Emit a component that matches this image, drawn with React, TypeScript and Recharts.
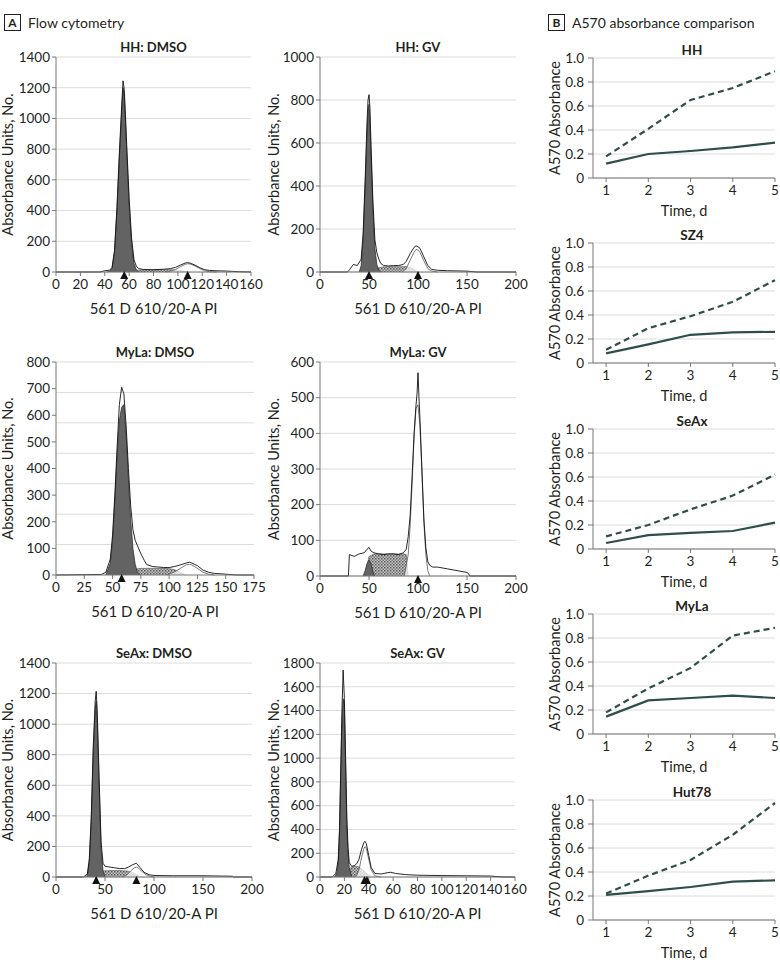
import React from 'react';
import { ComposedChart, LineChart, Area, Line, Scatter, XAxis, YAxis, CartesianGrid } from 'recharts';

const FONT = 'Lato, "Noto Sans", sans-serif';
const INK = '#231f20';
const TEAL = '#2f4e4a';

// ---------- Panel A: flow cytometry histograms ----------
// HH: DMSO
const hhDmsoX = [0, 36, 40, 44, 46, 48, 50, 52, 54, 55, 56, 57, 58, 60, 62, 64, 66, 68, 72, 80, 88, 94, 98, 102, 106, 108, 110, 114, 118, 122, 126, 132, 140, 150, 160];
const hhDmsoTotal = [0, 0, 8, 12, 30, 140, 420, 780, 1100, 1245, 1190, 1020, 830, 480, 220, 80, 35, 22, 16, 15, 18, 22, 30, 45, 58, 62, 58, 45, 28, 15, 10, 8, 6, 2, 0];
const hhDmsoG1X = [42, 44, 46, 48, 50, 52, 54, 55, 56, 57, 58, 60, 62, 64, 66, 68];
const hhDmsoG1 = [0, 5, 25, 130, 400, 750, 1060, 1200, 1150, 980, 790, 440, 190, 55, 12, 0];
const hhDmsoSX = [58, 62, 66, 72, 80, 88, 94, 100, 106, 110];
const hhDmsoS = [0, 8, 12, 14, 14, 15, 15, 12, 5, 0];
const hhDmsoG2X = [90, 94, 98, 102, 106, 108, 110, 114, 118, 122, 126, 132];
const hhDmsoG2 = [0, 6, 16, 34, 50, 54, 52, 40, 22, 8, 2, 0];
const hhDmsoArrows = [56, 108];

// HH: GV
const hhGvX = [0, 28, 30, 34, 38, 42, 44, 46, 48, 49, 50, 51, 52, 54, 56, 58, 60, 62, 65, 70, 75, 80, 85, 88, 92, 96, 98, 100, 102, 106, 110, 114, 120, 130, 140, 150, 155, 160, 200];
const hhGvTotal = [0, 0, 10, 35, 30, 60, 180, 420, 700, 800, 825, 760, 600, 330, 150, 90, 60, 40, 30, 28, 30, 30, 35, 50, 85, 115, 122, 118, 110, 70, 30, 12, 8, 6, 5, 4, 2, 0, 0];
const hhGvG1X = [40, 42, 44, 46, 48, 49, 50, 51, 52, 54, 56, 58, 60, 62];
const hhGvG1 = [0, 30, 150, 390, 660, 740, 780, 700, 560, 290, 110, 35, 8, 0];
const hhGvSX = [52, 56, 60, 65, 70, 80, 88, 92, 96, 100];
const hhGvS = [0, 12, 20, 24, 25, 25, 25, 22, 12, 0];
const hhGvG2X = [84, 88, 92, 96, 98, 100, 102, 106, 110, 114, 120];
const hhGvG2 = [0, 15, 55, 92, 105, 102, 92, 52, 16, 4, 0];
const hhGvArrows = [50, 100];

// MyLa: DMSO
const mylaDmsoX = [0, 40, 44, 48, 50, 52, 54, 56, 58, 60, 62, 64, 66, 68, 70, 72, 75, 78, 80, 85, 90, 95, 100, 105, 110, 115, 118, 120, 125, 130, 135, 140, 150, 160, 175];
const mylaDmsoTotal = [0, 2, 10, 60, 150, 300, 480, 640, 705, 680, 560, 400, 260, 170, 130, 110, 80, 55, 40, 32, 30, 28, 28, 32, 38, 45, 48, 45, 35, 18, 10, 6, 3, 0, 0];
const mylaDmsoG1X = [44, 48, 50, 52, 54, 56, 58, 60, 62, 64, 66, 68, 70, 72, 75];
const mylaDmsoG1 = [0, 45, 130, 280, 450, 580, 630, 640, 530, 360, 210, 100, 40, 10, 0];
const mylaDmsoSX = [60, 65, 70, 75, 80, 90, 100, 105, 110, 115];
const mylaDmsoS = [0, 15, 22, 25, 25, 25, 24, 20, 10, 0];
const mylaDmsoG2X = [98, 105, 110, 115, 118, 120, 125, 130, 135, 140];
const mylaDmsoG2 = [0, 12, 25, 38, 40, 38, 25, 10, 3, 0];
const mylaDmsoArrows = [58];
const mylaDmsoGrid = [800 / 7, 1600 / 7, 2400 / 7, 3200 / 7, 4000 / 7, 4800 / 7, 800];

// MyLa: GV
const mylaGvX = [0, 29, 30, 35, 40, 45, 48, 50, 52, 55, 60, 65, 70, 75, 80, 85, 88, 90, 92, 94, 96, 98, 99, 100, 101, 102, 104, 106, 108, 110, 112, 115, 120, 130, 140, 150, 152, 153, 160, 200];
const mylaGvTotal = [0, 0, 60, 55, 62, 65, 75, 80, 70, 65, 62, 60, 62, 62, 60, 65, 75, 110, 170, 280, 400, 480, 510, 570, 500, 440, 300, 160, 80, 40, 30, 25, 25, 20, 15, 10, 5, 0, 0, 0];
const mylaGvG1X = [44, 46, 48, 50, 52, 54, 56];
const mylaGvG1 = [0, 15, 35, 45, 35, 12, 0];
const mylaGvSX = [46, 50, 55, 60, 70, 80, 86, 88, 90];
const mylaGvS = [0, 55, 62, 62, 62, 62, 62, 60, 0];
const mylaGvG2X = [86, 90, 92, 94, 96, 98, 100, 102, 104, 106, 108, 110, 112];
const mylaGvG2 = [0, 60, 140, 260, 390, 470, 480, 420, 290, 150, 60, 15, 0];
const mylaGvArrows = [100];

// SeAx: DMSO
const seaxDmsoX = [0, 28, 32, 34, 36, 38, 40, 41, 42, 44, 46, 48, 50, 55, 60, 65, 70, 74, 78, 82, 86, 90, 95, 100, 120, 150, 170, 180, 181, 200];
const seaxDmsoTotal = [0, 0, 20, 120, 400, 850, 1150, 1215, 1100, 650, 230, 90, 70, 65, 60, 55, 55, 65, 80, 90, 60, 30, 15, 10, 8, 8, 6, 5, 0, 0];
const seaxDmsoG1X = [30, 32, 34, 36, 38, 40, 41, 42, 44, 46, 48, 50];
const seaxDmsoG1 = [0, 10, 100, 370, 820, 1100, 1150, 1050, 600, 180, 40, 0];
const seaxDmsoSX = [42, 44, 46, 48, 55, 65, 72, 78, 82, 86, 90];
const seaxDmsoS = [0, 20, 35, 40, 42, 42, 40, 30, 15, 5, 0];
const seaxDmsoG2X = [68, 72, 76, 80, 82, 84, 88, 92, 96, 100];
const seaxDmsoG2 = [0, 12, 38, 60, 65, 58, 35, 14, 4, 0];
const seaxDmsoArrows = [41, 82];

// SeAx: GV
const seaxGvX = [0, 10, 13, 15, 16, 17, 18, 19, 20, 21, 22, 23, 24, 26, 28, 30, 32, 34, 36, 37, 38, 40, 42, 45, 50, 55, 58, 62, 70, 80, 100, 120, 140, 150, 160];
const seaxGvTotal = [0, 0, 30, 150, 400, 900, 1400, 1740, 1500, 1000, 500, 250, 120, 90, 95, 110, 150, 230, 290, 300, 280, 180, 80, 30, 25, 35, 40, 30, 20, 15, 12, 10, 8, 0, 0];
const seaxGvG1X = [12, 14, 15, 16, 17, 18, 19, 20, 21, 22, 23, 24, 26];
const seaxGvG1 = [0, 40, 130, 380, 860, 1300, 1500, 1450, 950, 450, 200, 80, 0];
const seaxGvSX = [20, 22, 24, 26, 28, 30, 32, 34, 36, 38, 40, 42, 45];
const seaxGvS = [0, 40, 70, 85, 90, 90, 85, 70, 50, 30, 15, 5, 0];
const seaxGvG2X = [28, 30, 32, 34, 36, 37, 38, 40, 42, 45, 50];
const seaxGvG2 = [0, 10, 60, 160, 240, 255, 240, 150, 60, 10, 0];
const seaxGvArrows = [36.5, 38.5];

// ---------- Panel B: A570 absorbance ----------
const days = [1, 2, 3, 4, 5];
const absTicks = [0, 0.2, 0.4, 0.6, 0.8, 1.0];
const hhDash = [0.18, 0.41, 0.65, 0.75, 0.89];
const hhSolid = [0.12, 0.2, 0.225, 0.255, 0.295];
const sz4Dash = [0.11, 0.29, 0.39, 0.51, 0.69];
const sz4Solid = [0.08, 0.155, 0.235, 0.255, 0.26];
const seaxDash = [0.105, 0.2, 0.33, 0.445, 0.62];
const seaxSolid = [0.05, 0.115, 0.135, 0.15, 0.22];
const mylaDash = [0.18, 0.38, 0.55, 0.82, 0.885];
const mylaSolid = [0.145, 0.28, 0.3, 0.32, 0.3];
const hut78Dash = [0.22, 0.37, 0.5, 0.71, 0.975];
const hut78Solid = [0.21, 0.24, 0.275, 0.32, 0.33];

const pts = (xs: number[], ys: number[]) => xs.map((x, i) => ({ x, y: ys[i] }));

const Arrow = (props: any) => {
  const { cx, cy } = props;
  return <path d={`M${cx},${cy - 1} L${cx - 4},${cy + 7} L${cx + 4},${cy + 7} Z`} fill="#111" />;
};

type HistoProps = {
  id: string;
  left: number;
  top: number;
  w: number;
  h: number;
  title: string;
  xMax: number;
  xTicks: number[];
  yMax: number;
  yTicks: number[];
  grid?: number[];
  labelOffset: number;
  xs: number[];
  total: number[];
  g1x: number[];
  g1: number[];
  sx: number[];
  s: number[];
  g2x: number[];
  g2: number[];
  arrows: number[];
};

const tickStyle = { fontSize: 13.5, fill: INK, fontFamily: FONT };

function Histo(p: HistoProps) {
  const W = p.w + 56 + 12;
  const H = p.h + 20 + 44;
  const pid = `hatch-${p.id}`;
  return (
    <>
      <div style={{ position: 'absolute', left: p.left, top: p.top - 19, width: p.w, lineHeight: '18px', textAlign: 'center', fontWeight: 700, fontSize: 13 }}>
        {p.title}
      </div>
      <div style={{ position: 'absolute', left: p.left - 56, top: p.top - 20, width: W, height: H }}>
        <ComposedChart width={W} height={H} margin={{ top: 20, right: 12, bottom: 0, left: 0 }}>
          <defs>
            <pattern id={pid} width="3" height="3" patternUnits="userSpaceOnUse">
              <rect width="3" height="3" fill="#c8c8c8" />
              <rect width="1.5" height="1.5" fill="#555" />
              <rect x="1.5" y="1.5" width="1.5" height="1.5" fill="#777" />
            </pattern>
          </defs>
          <CartesianGrid vertical={false} stroke="#dcdcdc" horizontalValues={p.grid ?? p.yTicks} />
          <XAxis
            type="number"
            dataKey="x"
            domain={[0, p.xMax]}
            ticks={p.xTicks}
            interval={0}
            height={44}
            tickSize={4}
            tickMargin={3}
            axisLine={{ stroke: '#777' }}
            tickLine={{ stroke: '#777' }}
            tick={tickStyle}
            label={{ value: '561 D 610/20-A PI', position: 'insideBottom', offset: 2, fontSize: 15, fill: INK, fontFamily: FONT }}
          />
          <YAxis
            type="number"
            domain={[0, p.yMax]}
            ticks={p.yTicks}
            interval={0}
            width={56}
            tickSize={4}
            tickMargin={2}
            axisLine={{ stroke: '#777' }}
            tickLine={{ stroke: '#777' }}
            tick={tickStyle}
            label={{ value: 'Absorbance Units, No.', angle: -90, position: 'insideLeft', offset: p.labelOffset, style: { textAnchor: 'middle' }, fontSize: 14.5, fill: INK, fontFamily: FONT }}
          />
          <Area data={pts(p.sx, p.s)} dataKey="y" type="linear" fill={`url(#${pid})`} fillOpacity={1} stroke="#555" strokeWidth={0.6} isAnimationActive={false} />
          <Area data={pts(p.g2x, p.g2)} dataKey="y" type="linear" fill="#ffffff" fillOpacity={0.7} stroke="#555" strokeWidth={0.8} isAnimationActive={false} />
          <Area data={pts(p.g1x, p.g1)} dataKey="y" type="linear" fill="#636363" fillOpacity={1} stroke="#222" strokeWidth={0.7} isAnimationActive={false} />
          <Line data={pts(p.xs, p.total)} dataKey="y" type="linear" stroke="#111" strokeWidth={0.9} dot={false} isAnimationActive={false} />
          <Scatter data={p.arrows.map((x) => ({ x, y: 0 }))} dataKey="y" shape={Arrow} isAnimationActive={false} />
        </ComposedChart>
      </div>
    </>
  );
}

type GrowthProps = { top: number; title: string; dash: number[]; solid: number[] };

function Growth({ top, title, dash, solid }: GrowthProps) {
  const data = days.map((d, i) => ({ d, dash: dash[i], solid: solid[i] }));
  return (
    <>
      <div style={{ position: 'absolute', left: 642, top: top - 17, width: 100, lineHeight: '18px', textAlign: 'center', fontWeight: 700, fontSize: 13.5 }}>
        {title}
      </div>
      <div style={{ position: 'absolute', left: 533, top: top - 20, width: 247, height: 180 }}>
        <LineChart width={247} height={180} data={data} margin={{ top: 20, right: 5, bottom: 0, left: 0 }}>
          <CartesianGrid vertical={false} stroke="#dcdcdc" />
          <XAxis
            type="number"
            dataKey="d"
            domain={[0.69, 5]}
            ticks={days}
            interval={0}
            height={40}
            tickSize={4}
            tickMargin={3}
            axisLine={{ stroke: '#777' }}
            tickLine={{ stroke: '#777' }}
            tick={tickStyle}
            label={{ value: 'Time, d', position: 'insideBottom', offset: 2, fontSize: 14.5, fill: INK, fontFamily: FONT }}
          />
          <YAxis
            type="number"
            domain={[0, 1]}
            ticks={absTicks}
            interval={0}
            width={60}
            tickSize={5}
            tickMargin={4}
            axisLine={{ stroke: '#777' }}
            tickLine={{ stroke: '#777' }}
            tick={tickStyle}
            tickFormatter={(v: number) => (v === 0 ? '0' : v.toFixed(1))}
            label={{ value: 'A570 Absorbance', angle: -90, position: 'insideLeft', offset: 22, style: { textAnchor: 'middle' }, fontSize: 14.5, fill: INK, fontFamily: FONT }}
          />
          <Line dataKey="dash" type="linear" stroke={TEAL} strokeWidth={2.2} strokeDasharray="6 4" dot={false} isAnimationActive={false} />
          <Line dataKey="solid" type="linear" stroke={TEAL} strokeWidth={2.2} dot={false} isAnimationActive={false} />
        </LineChart>
      </div>
    </>
  );
}

function PanelTag({ left, letter, text }: { left: number; letter: string; text: string }) {
  return (
    <>
      <div style={{ position: 'absolute', left, top: 14, width: 15, height: 15, border: `1px solid ${INK}`, fontWeight: 700, fontSize: 12, lineHeight: '15px', textAlign: 'center' }}>
        {letter}
      </div>
      <div style={{ position: 'absolute', left: left + 24, top: 14, fontSize: 14, lineHeight: '17px' }}>{text}</div>
    </>
  );
}

const t160 = [0, 20, 40, 60, 80, 100, 120, 140, 160];
const t200 = [0, 50, 100, 150, 200];
const t175 = [0, 25, 50, 75, 100, 125, 150, 175];

export default function App() {
  return (
    <div style={{ position: 'absolute', left: 0, top: 0, width: 780, height: 973, overflow: 'hidden', background: '#fff', fontFamily: FONT, color: INK }}>
      <PanelTag left={4} letter="A" text="Flow cytometry" />
      <PanelTag left={548} letter="B" text="A570 absorbance comparison" />

      <Histo id="a" left={56} top={57} w={195} h={215} title="HH: DMSO" xMax={160} xTicks={t160} yMax={1400} yTicks={[0, 200, 400, 600, 800, 1000, 1200, 1400]} labelOffset={8}
        xs={hhDmsoX} total={hhDmsoTotal} g1x={hhDmsoG1X} g1={hhDmsoG1} sx={hhDmsoSX} s={hhDmsoS} g2x={hhDmsoG2X} g2={hhDmsoG2} arrows={hhDmsoArrows} />
      <Histo id="b" left={320} top={57} w={196} h={215} title="HH: GV" xMax={200} xTicks={t200} yMax={1000} yTicks={[0, 200, 400, 600, 800, 1000]} labelOffset={10}
        xs={hhGvX} total={hhGvTotal} g1x={hhGvG1X} g1={hhGvG1} sx={hhGvSX} s={hhGvS} g2x={hhGvG2X} g2={hhGvG2} arrows={hhGvArrows} />
      <Histo id="c" left={56} top={362} w={198} h={213} title="MyLa: DMSO" xMax={175} xTicks={t175} yMax={800} yTicks={[0, 100, 200, 300, 400, 500, 600, 700, 800]} grid={mylaDmsoGrid} labelOffset={8}
        xs={mylaDmsoX} total={mylaDmsoTotal} g1x={mylaDmsoG1X} g1={mylaDmsoG1} sx={mylaDmsoSX} s={mylaDmsoS} g2x={mylaDmsoG2X} g2={mylaDmsoG2} arrows={mylaDmsoArrows} />
      <Histo id="d" left={320} top={362} w={196} h={214} title="MyLa: GV" xMax={200} xTicks={t200} yMax={600} yTicks={[0, 100, 200, 300, 400, 500, 600]} labelOffset={10}
        xs={mylaGvX} total={mylaGvTotal} g1x={mylaGvG1X} g1={mylaGvG1} sx={mylaGvSX} s={mylaGvS} g2x={mylaGvG2X} g2={mylaGvG2} arrows={mylaGvArrows} />
      <Histo id="e" left={56} top={663} w={196} h={214} title="SeAx: DMSO" xMax={200} xTicks={t200} yMax={1400} yTicks={[0, 200, 400, 600, 800, 1000, 1200, 1400]} labelOffset={8}
        xs={seaxDmsoX} total={seaxDmsoTotal} g1x={seaxDmsoG1X} g1={seaxDmsoG1} sx={seaxDmsoSX} s={seaxDmsoS} g2x={seaxDmsoG2X} g2={seaxDmsoG2} arrows={seaxDmsoArrows} />
      <Histo id="f" left={320} top={663} w={195} h={214} title="SeAx: GV" xMax={160} xTicks={t160} yMax={1800} yTicks={[0, 200, 400, 600, 800, 1000, 1200, 1400, 1600, 1800]} labelOffset={10}
        xs={seaxGvX} total={seaxGvTotal} g1x={seaxGvG1X} g1={seaxGvG1} sx={seaxGvSX} s={seaxGvS} g2x={seaxGvG2X} g2={seaxGvG2} arrows={seaxGvArrows} />

      <Growth top={58} title="HH" dash={hhDash} solid={hhSolid} />
      <Growth top={243} title="SZ4" dash={sz4Dash} solid={sz4Solid} />
      <Growth top={429} title="SeAx" dash={seaxDash} solid={seaxSolid} />
      <Growth top={614} title="MyLa" dash={mylaDash} solid={mylaSolid} />
      <Growth top={800} title="Hut78" dash={hut78Dash} solid={hut78Solid} />
    </div>
  );
}
